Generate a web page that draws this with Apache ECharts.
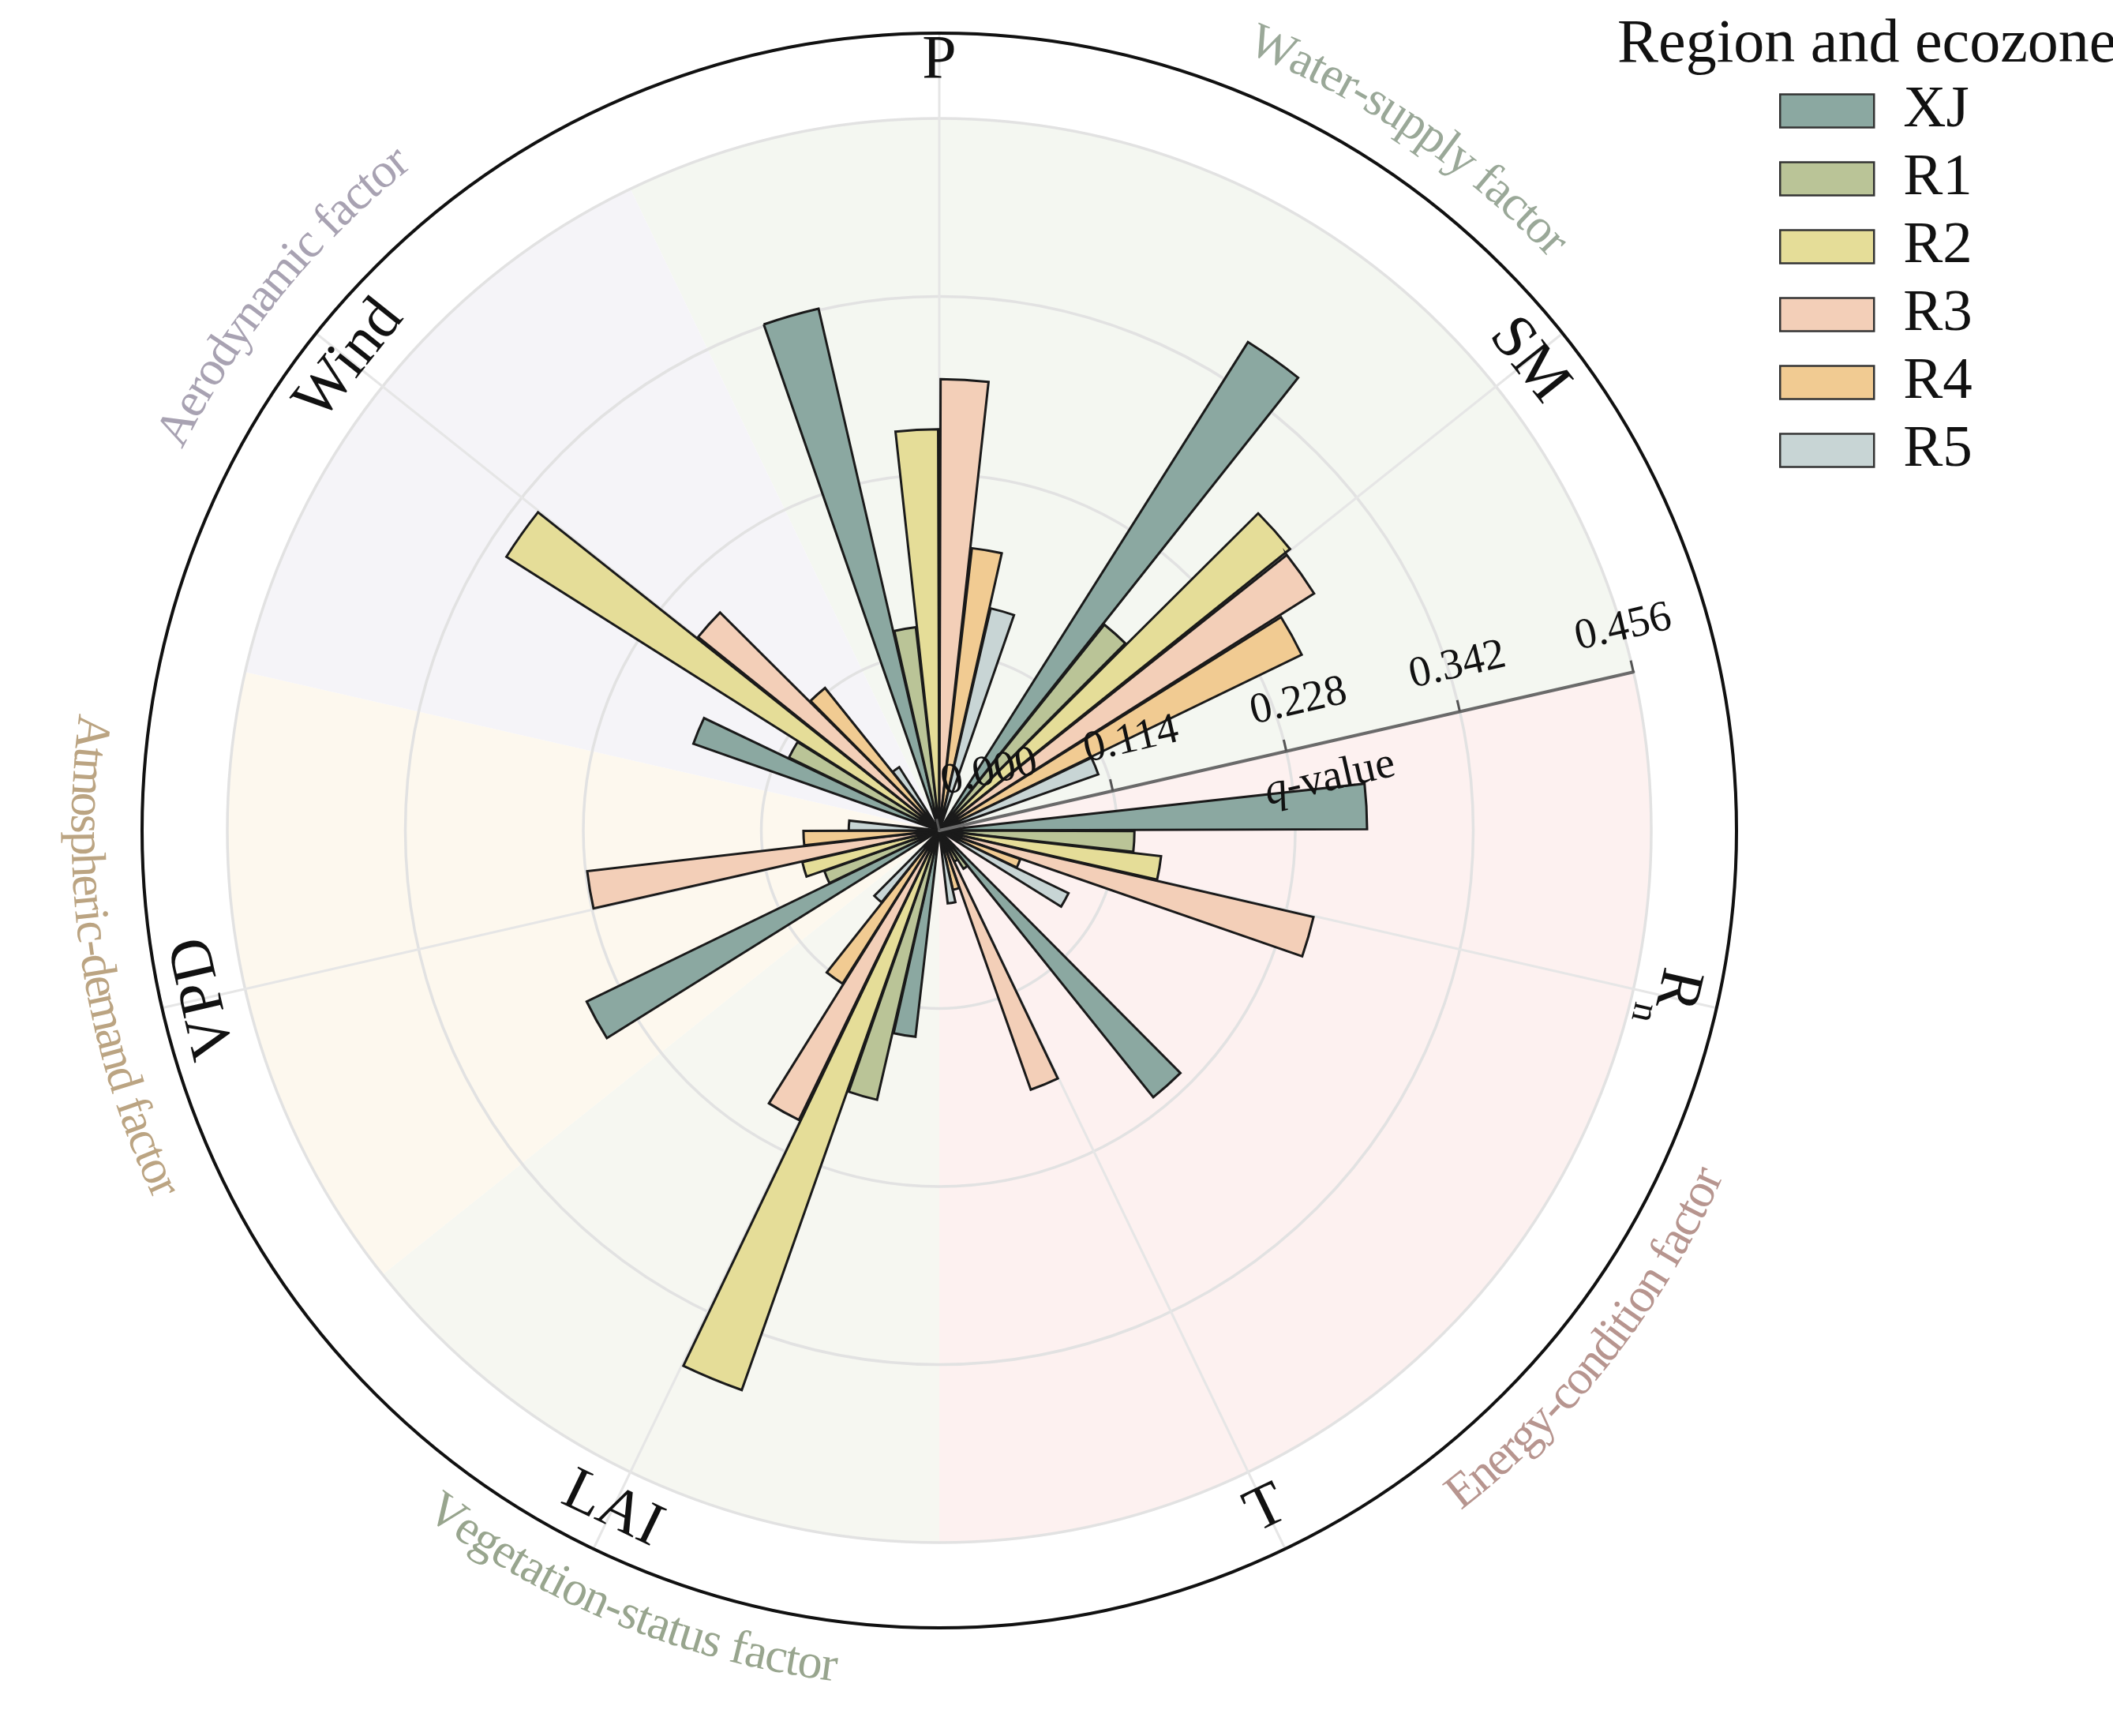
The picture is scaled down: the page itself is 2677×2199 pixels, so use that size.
<!DOCTYPE html>
<html>
<head>
<meta charset="utf-8">
<script src="https://cdn.jsdelivr.net/npm/echarts@6/dist/echarts.min.js"></script>
<style>
html,body{margin:0;padding:0;background:#fff;}
#chart{width:2677px;height:2199px;}
</style>
</head>
<body>
<div id="chart"></div>
<script>
// ---------------- data ----------------
const categories = ['P', 'SM', 'Rn', 'T', 'LAI', 'VPD', 'Wind'];
const regions = ['XJ', 'R1', 'R2', 'R3', 'R4', 'R5'];
const qXJ = [0.343, 0.370, 0.274, 0.219, 0.133, 0.251, 0.167];
const qR1 = [0.131, 0.169, 0.125, 0.029, 0.177, 0.078, 0.107];
const qR2 = [0.257, 0.288, 0.143, 0.022, 0.380, 0.090, 0.328];
const qR3 = [0.289, 0.284, 0.246, 0.176, 0.206, 0.227, 0.198];
const qR4 = [0.182, 0.258, 0.055, 0.039, 0.116, 0.087, 0.117];
const qR5 = [0.146, 0.108, 0.092, 0.047, 0.059, 0.058, 0.048];
const seriesValues = [qXJ, qR1, qR2, qR3, qR4, qR5];
const radialTicks = [0, 0.114, 0.228, 0.342, 0.456];
const groupNames = ['Water-supply factor', 'Energy-condition factor', 'Vegetation-status factor',
                    'Atmospheric-demand factor', 'Aerodynamic factor'];
const groupSizes = [2, 2, 1, 1, 1];

// ---------------- style ----------------
const FONT = '"Liberation Serif", "Times New Roman", serif';
const regionColors = ['#8ba8a1', '#bac497', '#e5dd98', '#f3cfb8', '#f1cb92', '#c8d5d5'];
const groupFill = ['#f4f7f1', '#fdf1f0', '#f6f7f1', '#fdf8ee', '#f5f4f8'];
const groupTextColor = ['#9aa898', '#b7958f', '#98a58e', '#bba482', '#a8a2b2'];
// arc placement of group labels: [first char angle, last char angle, radius, flipped]
const groupArc = [
  [23.1, 46.3, 1076, false],
  [141.5, 114.3, 1069, true],
  [215.8, 187.5, 1069, true],
  [276.6, 245.3, 1083, true],
  [297.9, 321.0, 1090, false]
];
const CX = 1190, CY = 1052;
const R_OUT = 1010, R_AX = 902;
const RMAX = radialTicks[4] * R_OUT / R_AX;
const STEP = 360 / categories.length;
const AX_ANGLE = 90 - STEP * 1.5; // radial q-value axis between SM and Rn

// ---------------- helpers ----------------
const ctx = document.createElement('canvas').getContext('2d');
function arcText(text, a0, a1, r, flip, color, fs) {
  ctx.font = fs + 'px ' + FONT;
  const chars = Array.from(text);
  let x = 0; const centers = [];
  chars.forEach(c => { const w = ctx.measureText(c).width; centers.push(x + w / 2); x += w; });
  const c0 = centers[0], c1 = centers[centers.length - 1];
  return chars.map((ch, i) => {
    const t = (centers[i] - c0) / (c1 - c0);
    const a = a0 + (a1 - a0) * t;
    const rad = a * Math.PI / 180;
    return {
      type: 'text', silent: true, z: 20,
      x: CX + r * Math.sin(rad), y: CY - r * Math.cos(rad),
      rotation: (flip ? (180 - a) : -a) * Math.PI / 180,
      style: { text: ch, fill: color, fontSize: fs, fontFamily: FONT, align: 'center', verticalAlign: 'middle' }
    };
  });
}
const graphics = [];
groupNames.forEach((g, i) => {
  const p = groupArc[i];
  graphics.push(...arcText(g, p[0], p[1], p[2], p[3], groupTextColor[i], 62));
});

// category label scatter
const labelData = categories.map((c, i) => {
  const a = i * STEP;
  let rot = -a;
  while (rot <= -180) rot += 360;
  while (rot > 180) rot -= 360;
  if (Math.abs(rot) > 120) rot -= Math.sign(rot) * 180;
  const rpx = (i === 0) ? 974 : 955;
  return { value: [rpx / R_OUT * RMAX, c], label: { rotate: rot } };
});

const chart = echarts.init(document.getElementById('chart'), null, { renderer: 'canvas' });
const option = {
  animation: false,
  backgroundColor: '#ffffff',
  title: {
    text: 'Region and ecozone', left: 2049, top: 19, padding: 0,
    textStyle: { fontSize: 78, fontWeight: 'normal', fontFamily: FONT, color: '#111' }
  },
  legend: {
    data: regions, orient: 'vertical', left: 2249, top: 98,
    itemWidth: 119, itemHeight: 42, itemGap: 11, icon: 'rect', selectedMode: false,
    itemStyle: { borderColor: '#333', borderWidth: 2.5 },
    textStyle: { fontSize: 75, fontFamily: FONT, color: '#111', padding: [0, 0, 0, 32] }
  },
  polar: [
    { center: [CX, CY], radius: R_OUT },
    { center: [CX, CY], radius: R_AX },
    { center: [CX, CY], radius: R_OUT }
  ],
  angleAxis: [
    { polarIndex: 0, type: 'category', data: categories, startAngle: 90 + STEP / 2, clockwise: true, z: 2,
      axisLine: { show: true, lineStyle: { color: '#111', width: 4 } },
      axisTick: { show: false }, axisLabel: { show: false }, splitLine: { show: false } },
    { polarIndex: 1, type: 'value', min: 0, max: 360, startAngle: AX_ANGLE, show: false },
    { polarIndex: 2, type: 'value', min: 0, max: 360, interval: STEP, startAngle: 90, clockwise: true, z: 2,
      axisLine: { show: false }, axisTick: { show: false }, axisLabel: { show: false },
      splitLine: { show: true, lineStyle: { color: '#e6e6e6', width: 3 } } }
  ],
  radiusAxis: [
    { polarIndex: 0, type: 'value', min: 0, max: RMAX, interval: radialTicks[1], z: 2,
      axisLine: { show: false }, axisTick: { show: false }, axisLabel: { show: false },
      splitLine: { show: true, lineStyle: { color: '#e2e2e2', width: 3.5 } } },
    { polarIndex: 1, type: 'value', min: 0, max: radialTicks[4], interval: radialTicks[1], z: 15,
      axisLine: { show: true, lineStyle: { color: '#6a6a6a', width: 4 } },
      axisTick: { show: true, length: 15, lineStyle: { color: '#555', width: 3 } },
      splitLine: { show: false },
      axisLabel: {
        show: true, rotate: AX_ANGLE, margin: 30, fontSize: 55, fontFamily: FONT, color: '#111',
        formatter: (v, idx) => '{p' + idx + '|' + v.toFixed(3) + '}',
        rich: {
          p0: { fontSize: 55, fontFamily: FONT, color: '#111', padding: [0, 0, 0, 156] },
          p1: { fontSize: 55, fontFamily: FONT, color: '#111', padding: [0, 0, 0, 74] },
          p2: { fontSize: 55, fontFamily: FONT, color: '#111', padding: [0, 0, 0, 58] },
          p3: { fontSize: 55, fontFamily: FONT, color: '#111', padding: [0, 0, 0, 20] },
          p4: { fontSize: 55, fontFamily: FONT, color: '#111' }
        }
      },
      name: '{i|q}{t|-value}', nameLocation: 'middle', nameGap: 18,
      nameTextStyle: {
        rich: {
          i: { fontSize: 56, fontFamily: FONT, fontStyle: 'italic', color: '#111', padding: [0, 0, 0, 92] },
          t: { fontSize: 56, fontFamily: FONT, color: '#111' }
        }
      }
    },
    { polarIndex: 2, type: 'value', min: 0, max: 1, show: false }
  ],
  graphic: graphics,
  series: [
    {
      type: 'pie', center: [CX, CY], radius: [0, R_AX], startAngle: 90 + STEP / 2, clockwise: true,
      silent: true, z: 1, label: { show: false }, labelLine: { show: false }, emphasis: { disabled: true },
      itemStyle: { borderWidth: 0 },
      data: groupSizes.map((v, i) => ({ value: v, name: groupNames[i], itemStyle: { color: groupFill[i] } }))
    },
    ...regions.map((r, k) => ({
      name: r, type: 'bar', coordinateSystem: 'polar', polarIndex: 0, z: 3,
      barCategoryGap: '25.6%', barGap: '5.4%',
      data: seriesValues[k],
      itemStyle: { color: regionColors[k], borderColor: '#1a1a1a', borderWidth: 3 },
      emphasis: { disabled: true }
    })),
    {
      type: 'scatter', coordinateSystem: 'polar', polarIndex: 0, z: 20, silent: true,
      symbolSize: 2, itemStyle: { color: 'rgba(0,0,0,0)', opacity: 1 },
      label: {
        show: true, position: 'inside', color: '#111',
        formatter: p => p.value[1] === 'Rn' ? '{r|R}{s|n}' : '{m|' + p.value[1] + '}',
        rich: {
          m: { fontSize: 78, fontFamily: FONT, color: '#111', lineHeight: 80 },
          r: { fontSize: 78, fontFamily: FONT, color: '#111', lineHeight: 116 },
          s: { fontSize: 48, fontFamily: FONT, color: '#111', verticalAlign: 'bottom', lineHeight: 48 }
        }
      },
      data: labelData
    }
  ]
};
chart.setOption(option);
</script>
</body>
</html>
